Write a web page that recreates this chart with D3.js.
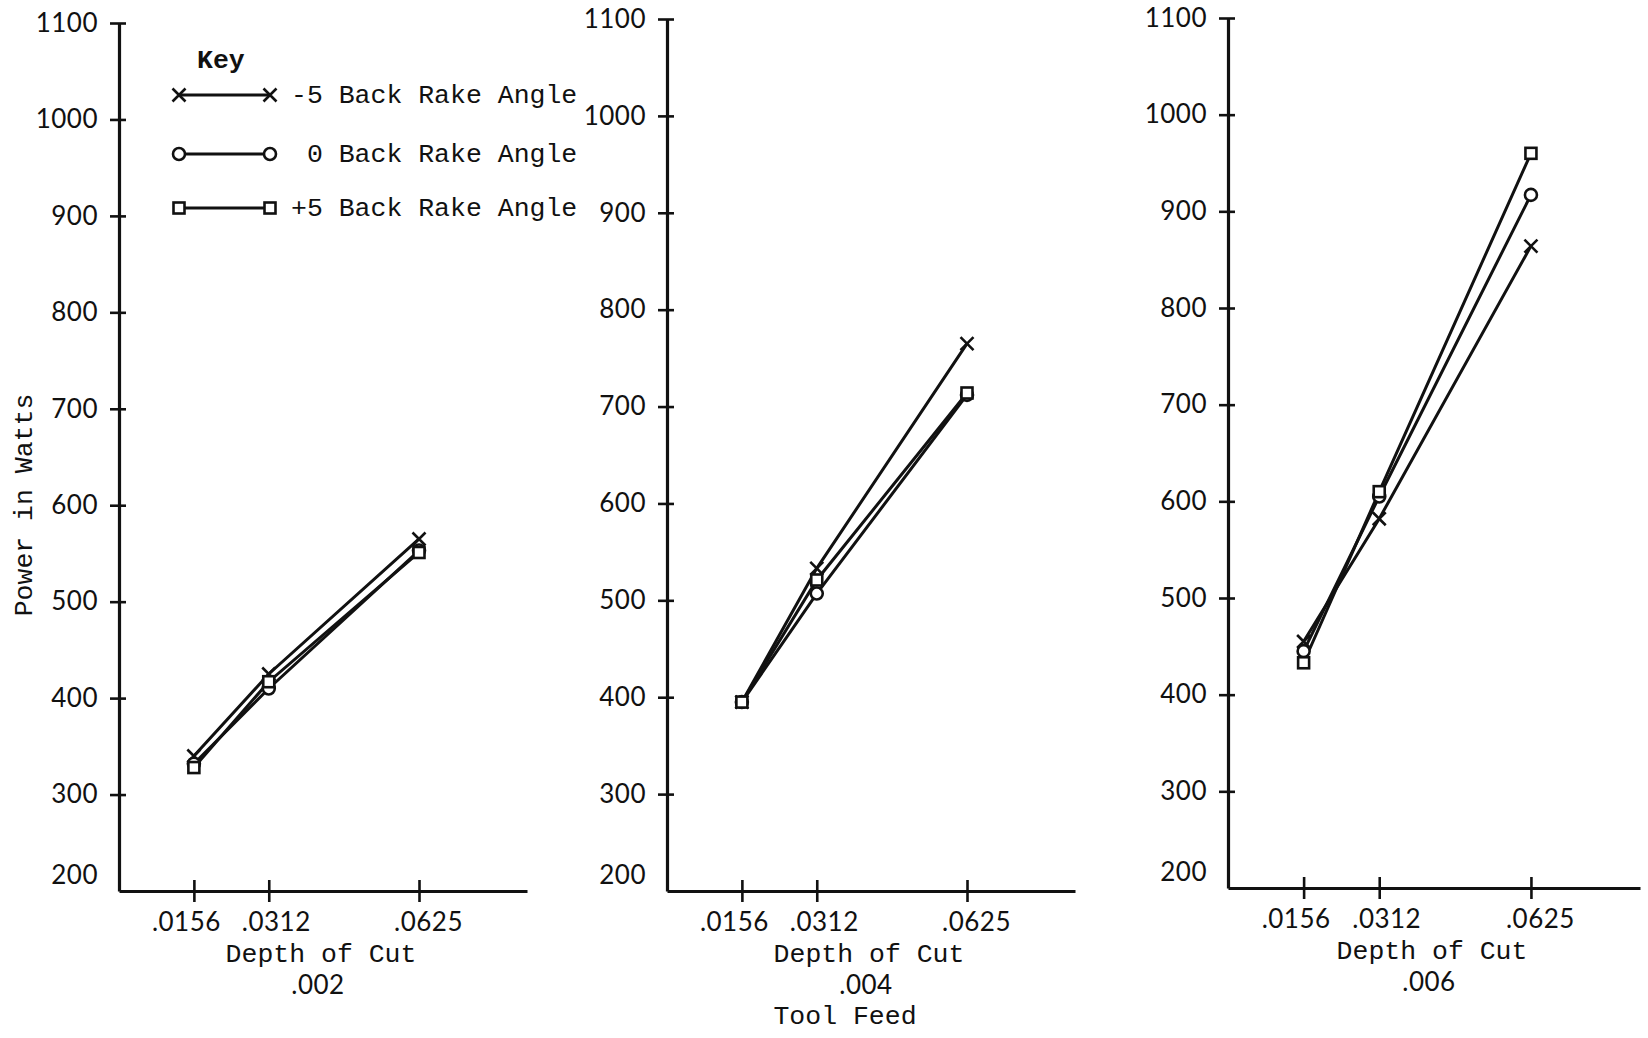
<!DOCTYPE html>
<html>
<head>
<meta charset="utf-8">
<script src="https://cdn.jsdelivr.net/npm/d3@7"></script>
<style>
  html, body { margin: 0; padding: 0; background: #fff; }
  svg { display: block; }
  .num { font-family: Lato, "Open Sans", sans-serif; font-size: 26px; fill: #111; letter-spacing: 0.5px; }
  .tw { font-family: "Liberation Mono", "DejaVu Sans Mono", monospace; font-size: 26.5px; fill: #111; }
</style>
</head>
<body>
<svg id="chart" width="1648" height="1038"></svg>
<script>
// Depth of cut (inches) tested at each tool feed
const depths = [0.0156, 0.0312, 0.0625];
const depthLabels = [".0156", ".0312", ".0625"];
const feeds = [".002", ".004", ".006"];
const seriesNames = ["-5 Back Rake Angle", "0 Back Rake Angle", "+5 Back Rake Angle"];
const yTicks = [200, 300, 400, 500, 600, 700, 800, 900, 1000, 1100];

// Power in watts, one array per tool feed and back rake angle
const feed002Minus5 = [340, 425, 565];
const feed002Zero   = [332, 410, 553];
const feed002Plus5  = [328, 417, 551];

const feed004Minus5 = [395, 533, 765];
const feed004Zero   = [395, 507, 712];
const feed004Plus5  = [395, 521, 714];

const feed006Minus5 = [455, 582, 864];
const feed006Zero   = [445, 605, 917];
const feed006Plus5  = [433, 610, 960];

const powerByFeed = [
  [feed002Minus5, feed002Zero, feed002Plus5],
  [feed004Minus5, feed004Zero, feed004Plus5],
  [feed006Minus5, feed006Zero, feed006Plus5]
];

const markerKinds = ["cross", "circle", "square"];

// Panel placement on the page
const panels = [
  { left: 119,  width: 408, top: 23, bottom: 891 },
  { left: 667,  width: 408, top: 19, bottom: 891 },
  { left: 1228, width: 412, top: 18, bottom: 888 }
];

const svg = d3.select("#chart");
const labelNudge = [-8, 7, 9];

function drawMarker(g, kind, x, y) {
  if (kind === "cross") {
    const s = 6.5;
    g.append("path")
      .attr("d", `M${x - s},${y - s}L${x + s},${y + s}M${x - s},${y + s}L${x + s},${y - s}`)
      .attr("stroke", "#111").attr("stroke-width", 2.6).attr("fill", "none");
  } else if (kind === "circle") {
    g.append("circle").attr("cx", x).attr("cy", y).attr("r", 6)
      .attr("fill", "#fff").attr("stroke", "#111").attr("stroke-width", 2.6);
  } else {
    g.append("rect").attr("x", x - 5.5).attr("y", y - 5.5).attr("width", 11).attr("height", 11)
      .attr("fill", "#fff").attr("stroke", "#111").attr("stroke-width", 2.6);
  }
}

panels.forEach((p, i) => {
  const x = d3.scaleLinear().domain([0, 0.085]).range([p.left, p.left + p.width]);
  const y = d3.scaleLinear().domain([200, 1100]).range([p.bottom, p.top]);
  const g = svg.append("g");

  // y axis: ticks cross the axis line
  const yAxis = d3.axisLeft(y).tickValues(yTicks).tickSize(9).tickSizeOuter(0).tickPadding(12)
    .tickFormat(d3.format("d"));
  const ya = g.append("g").attr("transform", `translate(${p.left},0)`).call(yAxis);
  ya.select(".domain").attr("stroke", "#111").attr("stroke-width", 3.2);
  ya.selectAll(".tick line").attr("x1", 7).attr("stroke", "#111").attr("stroke-width", 2.6)
    .filter(d => d === 200).remove();
  ya.selectAll(".tick text").attr("class", "num").attr("font-size", null).attr("font-family", null)
    .filter(d => d === 200).attr("dy", "-0.3em");

  // x axis
  const xAxis = d3.axisBottom(x).tickValues(depths).tickSize(11).tickSizeOuter(0).tickPadding(11)
    .tickFormat((d, k) => depthLabels[k]);
  const xa = g.append("g").attr("transform", `translate(0,${p.bottom})`).call(xAxis);
  xa.select(".domain").attr("stroke", "#111").attr("stroke-width", 3.2);
  xa.selectAll(".tick line").attr("y1", -11).attr("stroke", "#111").attr("stroke-width", 2.6);
  xa.selectAll(".tick text").attr("class", "num").attr("font-size", null).attr("font-family", null)
    .attr("dx", (d, k) => labelNudge[k]);

  const cx = p.left + p.width / 2 - 2;
  g.append("text").attr("class", "tw").attr("x", cx).attr("y", p.bottom + 71)
    .attr("text-anchor", "middle").text("Depth of Cut");
  g.append("text").attr("class", "num").attr("x", cx - 3).attr("y", p.bottom + 103)
    .attr("text-anchor", "middle").text(feeds[i]);
  if (i === 1) {
    g.append("text").attr("class", "tw").attr("x", cx - 24).attr("y", p.bottom + 133)
      .attr("text-anchor", "middle").text("Tool Feed");
  }

  // series lines and markers
  const line = d3.line().x((d, k) => x(depths[k])).y(d => y(d));
  powerByFeed[i].forEach((vals) => {
    g.append("path").datum(vals).attr("d", line)
      .attr("fill", "none").attr("stroke", "#111").attr("stroke-width", 3);
  });
  powerByFeed[i].forEach((vals, s) => {
    vals.forEach((v, k) => drawMarker(g, markerKinds[s], x(depths[k]), y(v)));
  });
});

// y axis title
svg.append("text").attr("class", "tw").attr("font-size", 27)
  .attr("transform", "translate(32,505) rotate(-90)")
  .attr("text-anchor", "middle").text("Power in Watts");

// key
const key = svg.append("g");
key.append("text").attr("class", "tw").attr("font-weight", "bold").attr("x", 197).attr("y", 68).text("Key");
const keyRows = [95, 154, 208];
seriesNames.forEach((name, s) => {
  const ry = keyRows[s];
  key.append("line").attr("x1", 179).attr("x2", 270).attr("y1", ry).attr("y2", ry)
    .attr("stroke", "#111").attr("stroke-width", 2.8);
  drawMarker(key, markerKinds[s], 179, ry);
  drawMarker(key, markerKinds[s], 270, ry);
  key.append("text").attr("class", "tw").attr("x", 291).attr("y", ry + 8)
    .attr("xml:space", "preserve")
    .text(s === 1 ? " " + name : name);
});
</script>
</body>
</html>
